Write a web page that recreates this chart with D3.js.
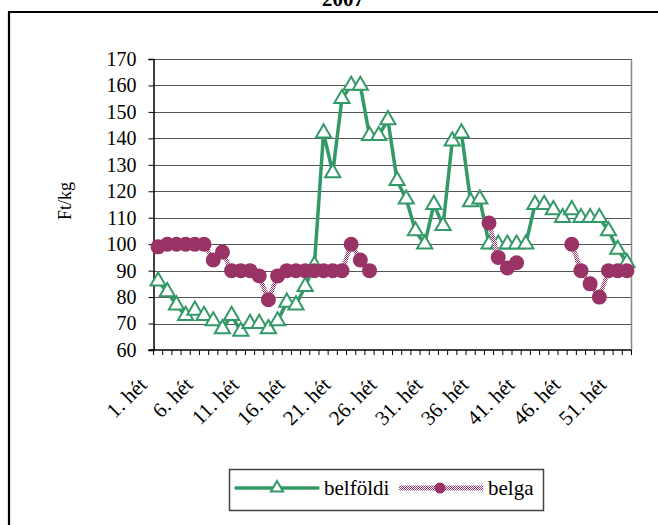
<!DOCTYPE html>
<html lang="hu">
<head>
<meta charset="UTF-8">
<script src="https://d3js.org/d3.v7.min.js"></script>
<style>
  body { margin: 0; background: #fff; }
  text { font-family: "Liberation Serif", "Times New Roman", serif; fill: #000; }
</style>
</head>
<body>
<script>
const w = 658, h = 525;

// week categories
const weeks = d3.range(1, 53).map(i => i + ". hét");
const yTicks = [60, 70, 80, 90, 100, 110, 120, 130, 140, 150, 160, 170];

// series values (Ft/kg)
const belfoldi = [86, 82, 77, 73, 75, 73, 71, 68, 73, 67, 70, 70, 68, 71, 78, 77, 84, 92,
  142, 127, 155, 160, 160, 141, 141, 147, 124, 117, 105, 100, 115, 107, 139, 142, 116, 117,
  100, 100, 100, 100, 100, 115, 115, 113, 110, 113, 110, 110, 110, 105, 98, 93];
const belga = [99, 100, 100, 100, 100, 100, 94, 97, 90, 90, 90, 88, 79, 88, 90, 90, 90, 90,
  90, 90, 90, 100, 94, 90, null, null, null, null, null, null, null, null, null, null, null, null,
  108, 95, 91, 93, null, null, null, null, null, 100, 90, 85, 80, 90, 90, 90];

const green = "#339966", plum = "#993366";
const pLeft = 153.5, pRight = 631.5, pTop = 59, pBottom = 350;

const svg = d3.select("body").append("svg")
  .attr("width", w).attr("height", h);

// checker pattern for the belga line
const pat = svg.append("defs").append("pattern")
  .attr("id", "checker").attr("width", 2).attr("height", 2)
  .attr("patternUnits", "userSpaceOnUse");
pat.append("rect").attr("width", 2).attr("height", 2).attr("fill", "#fff");
pat.append("rect").attr("width", 1).attr("height", 1).attr("fill", plum);
pat.append("rect").attr("x", 1).attr("y", 1).attr("width", 1).attr("height", 1).attr("fill", plum);

// chart border (only top and left are visible)
svg.append("path")
  .attr("d", `M9,${h} V12 H${w}`)
  .attr("fill", "none").attr("stroke", "#000").attr("stroke-width", 2.2);

// title, cut off at the top like in the source
svg.append("text")
  .attr("x", 343).attr("y", 6)
  .attr("text-anchor", "middle")
  .style("font-size", "21px").style("font-weight", "bold")
  .text("2007");

const x = d3.scaleBand().domain(weeks).range([pLeft, pRight]);
const y = d3.scaleLinear().domain([60, 170]).range([pBottom, pTop]);
const cx = d => x(d) + x.bandwidth() / 2;

// gridlines
svg.append("g").selectAll("line")
  .data(yTicks.slice(1))
  .join("line")
  .attr("x1", pLeft).attr("x2", pRight)
  .attr("y1", d => Math.round(y(d)) + 0.5).attr("y2", d => Math.round(y(d)) + 0.5)
  .attr("stroke", "#555").attr("stroke-width", 1);

// plot area right border
svg.append("line")
  .attr("x1", pRight).attr("x2", pRight).attr("y1", pTop).attr("y2", pBottom)
  .attr("stroke", "#888").attr("stroke-width", 1.5);

// y axis
const yAxis = svg.append("g")
  .attr("transform", `translate(${pLeft},0)`)
  .call(d3.axisLeft(y).tickValues(yTicks).tickSize(5).tickPadding(12));
yAxis.select(".domain").attr("stroke-width", 1.5);
yAxis.selectAll("text").style("font-size", "20px")
  .style("font-family", "'Liberation Serif', serif");

// x axis: line with ticks at category borders
const xAxis = svg.append("g");
xAxis.append("line")
  .attr("x1", pLeft - 5).attr("x2", pRight).attr("y1", pBottom).attr("y2", pBottom)
  .attr("stroke", "#000").attr("stroke-width", 1.5);
xAxis.selectAll("line.tk")
  .data(weeks.concat(["end"]))
  .join("line").attr("class", "tk")
  .attr("x1", (d, i) => i < weeks.length ? x(d) : pRight)
  .attr("x2", (d, i) => i < weeks.length ? x(d) : pRight)
  .attr("y1", pBottom).attr("y2", pBottom + 5)
  .attr("stroke", "#000").attr("stroke-width", 1);
xAxis.selectAll("text")
  .data(weeks.filter((d, i) => i % 5 === 0))
  .join("text")
  .attr("transform", d => `translate(${cx(d) - 10},386) rotate(-45)`)
  .attr("text-anchor", "end")
  .style("font-size", "21px")
  .text(d => d);

// y axis title
svg.append("text")
  .attr("transform", "translate(71,201) rotate(-90)")
  .attr("text-anchor", "middle")
  .style("font-size", "18px")
  .text("Ft/kg");

// belföldi series
const lineG = d3.line().x((d, i) => cx(weeks[i])).y(d => y(d));
svg.append("path")
  .datum(belfoldi)
  .attr("d", lineG)
  .attr("fill", "none").attr("stroke", green).attr("stroke-width", 3.5)
  .attr("stroke-linejoin", "round");

const tri = d3.symbol().type(d3.symbolTriangle).size(100);
svg.append("g").selectAll("path")
  .data(belfoldi)
  .join("path")
  .attr("transform", (d, i) => `translate(${cx(weeks[i])},${y(d)})`)
  .attr("d", tri)
  .attr("fill", "#fff").attr("stroke", green).attr("stroke-width", 2);

// belga series
const lineB = d3.line().defined(d => d !== null)
  .x((d, i) => cx(weeks[i])).y(d => y(d));
svg.append("path")
  .datum(belga)
  .attr("d", lineB)
  .attr("fill", "none").attr("stroke", "url(#checker)").attr("stroke-width", 4.5);

svg.append("g").selectAll("circle")
  .data(belga.map((v, i) => ({ v, wk: weeks[i] })).filter(d => d.v !== null))
  .join("circle")
  .attr("cx", d => cx(d.wk)).attr("cy", d => y(d.v))
  .attr("r", 7.5)
  .attr("fill", plum);

// legend
const lg = svg.append("g");
lg.append("rect")
  .attr("x", 229.5).attr("y", 469.5).attr("width", 314).attr("height", 41)
  .attr("fill", "#fff").attr("stroke", "#444").attr("stroke-width", 1.5);
lg.append("line")
  .attr("x1", 236).attr("x2", 318).attr("y1", 488).attr("y2", 488)
  .attr("stroke", green).attr("stroke-width", 3.5).attr("stroke-linecap", "round");
lg.append("path")
  .attr("transform", "translate(277,488)")
  .attr("d", d3.symbol().type(d3.symbolTriangle).size(65))
  .attr("fill", "#fff").attr("stroke", green).attr("stroke-width", 2);
lg.append("text").attr("x", 324).attr("y", 495)
  .style("font-size", "21px").text("belföldi");
lg.append("line")
  .attr("x1", 399).attr("x2", 483).attr("y1", 488).attr("y2", 488)
  .attr("stroke", "url(#checker)").attr("stroke-width", 5);
lg.append("circle")
  .attr("cx", 440).attr("cy", 488).attr("r", 5.5).attr("fill", plum);
lg.append("text").attr("x", 488).attr("y", 495)
  .style("font-size", "21px").text("belga");
</script>
</body>
</html>
